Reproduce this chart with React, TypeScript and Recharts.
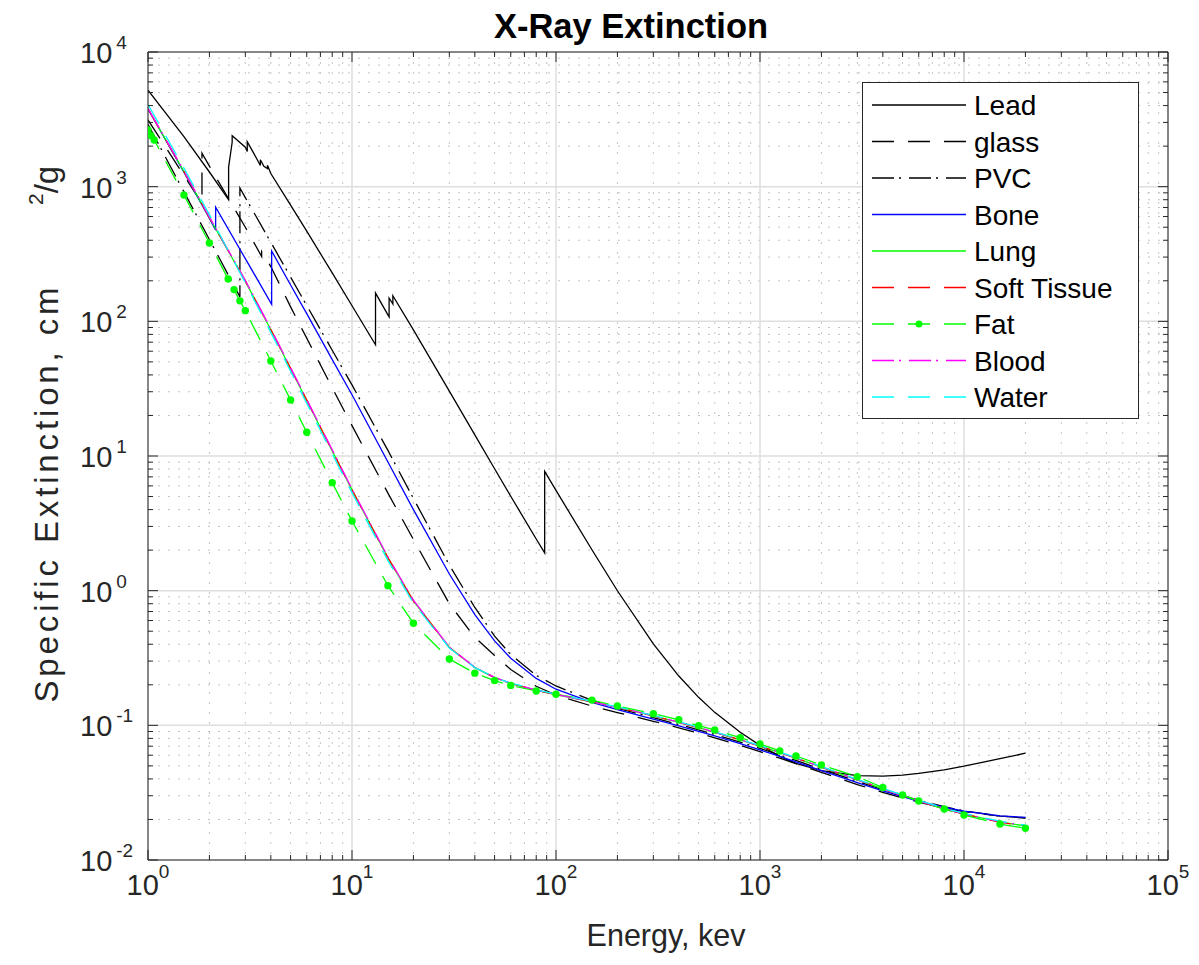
import React from 'react';
import { LineChart, Line, XAxis, YAxis, CartesianGrid, ReferenceLine, Legend } from 'recharts';

// energies in keV, specific extinction in cm^2/g
const E_STD = [1, 1.5, 2, 3, 4, 5, 6, 8, 10, 15, 20, 30, 40, 50, 60, 80, 100, 150, 200, 300, 400, 500, 600, 800, 1000, 1250, 1500, 2000, 3000, 4000, 5000, 6000, 8000, 10000, 15000, 20000];

const LEAD_E = [1, 1.5, 2, 2.484, 2.484, 2.534, 2.586, 2.586, 3, 3.066, 3.066, 3.301, 3.554, 3.554, 3.699, 3.851, 3.851, 4, 5, 6, 8, 10, 13.04, 13.04, 15, 15.2, 15.2, 15.53, 15.86, 15.86, 20, 30, 40, 50, 60, 80, 88, 88, 100, 150, 200, 300, 400, 500, 600, 800, 1000, 1250, 1500, 2000, 3000, 4000, 5000, 6000, 8000, 10000, 15000, 20000];
const LEAD_MU = [5210, 2356, 1285, 800.6, 1397, 1726, 2135, 2391, 1963, 1824, 2155, 1768, 1437, 1586, 1419, 1362, 1444, 1251, 730.4, 467.2, 228.7, 130.6, 67.01, 162.1, 111.6, 107.8, 148.5, 141.6, 134.4, 154.8, 86.36, 30.32, 14.36, 8.041, 5.021, 2.419, 1.91, 7.683, 5.549, 2.014, 0.9985, 0.4031, 0.2323, 0.1614, 0.1248, 0.0887, 0.07102, 0.05876, 0.05222, 0.04606, 0.04234, 0.04197, 0.04272, 0.04391, 0.04675, 0.04972, 0.05658, 0.06206];

const GLASS_E = [1, 1.5, 1.839, 1.839, 2, 3, 3.607, 3.607, 4, 5, 6, 8, 10, 15, 20, 30, 40, 50, 60, 80, 100, 150, 200, 300, 400, 500, 600, 800, 1000, 1250, 1500, 2000, 3000, 4000, 5000, 6000, 8000, 10000, 15000, 20000];
const GLASS_MU = [3130, 1210, 753, 1770, 1420, 500, 303, 330, 255, 128, 75, 32.1, 16.8, 5.3, 2.4, 0.8, 0.45, 0.33, 0.26, 0.195, 0.168, 0.139, 0.1245, 0.1072, 0.0959, 0.0874, 0.0808, 0.0709, 0.0637, 0.057, 0.0519, 0.0447, 0.0363, 0.0318, 0.0289, 0.0269, 0.0243, 0.0229, 0.0212, 0.0206];

const PVC_E = [1, 1.5, 2, 2.822, 2.822, 3, 4, 5, 6, 8, 10, 15, 20, 30, 40, 50, 60, 80, 100, 150, 200, 300, 400, 500, 600, 800, 1000, 1250, 1500, 2000, 3000, 4000, 5000, 6000, 8000, 10000, 15000, 20000];
const PVC_MU = [2900, 917, 405, 152, 977, 830, 386, 213, 131, 61, 33.7, 11.0, 4.84, 1.55, 0.75, 0.46, 0.335, 0.235, 0.196, 0.153, 0.134, 0.114, 0.1015, 0.0926, 0.0855, 0.075, 0.0674, 0.0603, 0.0549, 0.0472, 0.0383, 0.0333, 0.03, 0.0278, 0.0249, 0.0232, 0.0212, 0.0205];

const BONE_E = [1, 1.5, 2, 2.1455, 2.1455, 3, 4.038, 4.038, 5, 6, 8, 10, 15, 20, 30, 40, 50, 60, 80, 100, 150, 200, 300, 400, 500, 600, 800, 1000, 1250, 1500, 2000, 3000, 4000, 5000, 6000, 8000, 10000, 15000, 20000];
const BONE_MU = [3781, 1280, 580, 476, 703, 292, 134, 333, 186, 114, 52, 28.5, 9.03, 4.0, 1.33, 0.665, 0.424, 0.315, 0.223, 0.1855, 0.148, 0.1309, 0.1113, 0.0989, 0.0902, 0.0834, 0.0732, 0.0657, 0.0587, 0.0535, 0.0461, 0.0375, 0.0326, 0.0295, 0.0273, 0.0247, 0.0231, 0.0213, 0.0207];

const LUNG_MU = [3770, 1295, 588, 198, 86.5, 44.5, 25.8, 10.9, 5.6, 1.75, 0.838, 0.378, 0.2686, 0.2263, 0.2048, 0.1823, 0.1694, 0.1492, 0.1358, 0.1176, 0.1052, 0.09604, 0.08879, 0.07798, 0.07011, 0.06269, 0.05704, 0.049, 0.03936, 0.03374, 0.03003, 0.02744, 0.02404, 0.02195, 0.01917, 0.01789];
const SOFT_MU = [3790, 1300, 590, 200, 87, 44.8, 26.0, 10.95, 5.62, 1.76, 0.841, 0.379, 0.2688, 0.2264, 0.2048, 0.1823, 0.1693, 0.1492, 0.1358, 0.1176, 0.1052, 0.09602, 0.08877, 0.07796, 0.0701, 0.06268, 0.05703, 0.04898, 0.03933, 0.0337, 0.02999, 0.02739, 0.02398, 0.02189, 0.0191, 0.01781];
const BLOOD_MU = [3800, 1310, 595, 201, 88, 45.3, 26.3, 11.1, 5.68, 1.78, 0.85, 0.381, 0.2694, 0.227, 0.2053, 0.1827, 0.1697, 0.1496, 0.1361, 0.1179, 0.1055, 0.09625, 0.08899, 0.07815, 0.07027, 0.06284, 0.05717, 0.04911, 0.03946, 0.03383, 0.03012, 0.02752, 0.02412, 0.02203, 0.01925, 0.01796];
const WATER_MU = [4078, 1376, 617.3, 192.9, 82.78, 42.58, 24.64, 10.37, 5.329, 1.673, 0.8096, 0.3756, 0.2683, 0.2269, 0.2059, 0.1837, 0.1707, 0.1505, 0.137, 0.1186, 0.1061, 0.09687, 0.08956, 0.07865, 0.07072, 0.06323, 0.05754, 0.04942, 0.03969, 0.03403, 0.03031, 0.0277, 0.02429, 0.02219, 0.01941, 0.01813];

const FAT_E = [1, 1.035, 1.072, 1.5, 2, 2.472, 2.641, 2.822, 3, 4, 5, 6, 8, 10, 15, 20, 30, 40, 50, 60, 80, 100, 150, 200, 300, 400, 500, 600, 800, 1000, 1250, 1500, 2000, 3000, 4000, 5000, 6000, 8000, 10000, 15000, 20000];
const FAT_MU = [2636, 2392, 2222, 867, 382, 206, 172, 142, 120, 50.8, 26.1, 15.0, 6.34, 3.29, 1.09, 0.573, 0.311, 0.244, 0.215, 0.198, 0.18, 0.17, 0.154, 0.139, 0.122, 0.11, 0.0994, 0.0924, 0.081, 0.0727, 0.0645, 0.0592, 0.0508, 0.0416, 0.0345, 0.0304, 0.0274, 0.0239, 0.0216, 0.0185, 0.0172];

const X_DECADES = [0, 1, 2, 3, 4, 5];
const Y_DECADES = [-2, -1, 0, 1, 2, 3, 4];

const FONT = '"Liberation Sans", Arial, Helvetica, sans-serif';
const AXIS = '#262626';
const DASH = '22 14';
const DASHDOT = '22 5 2 8';
const PLOT_H = 808;
const PLOT_W = 1020;

const toPoints = (e: number[], mu: number[]) => e.map((x, i) => ({ x, y: mu[i] }));

const SERIES = [
  { name: 'Lead', pts: toPoints(LEAD_E, LEAD_MU), color: '#000000', dash: undefined, marker: false },
  { name: 'glass', pts: toPoints(GLASS_E, GLASS_MU), color: '#000000', dash: DASH, marker: false },
  { name: 'PVC', pts: toPoints(PVC_E, PVC_MU), color: '#000000', dash: DASHDOT, marker: false },
  { name: 'Bone', pts: toPoints(BONE_E, BONE_MU), color: '#0000ff', dash: undefined, marker: false },
  { name: 'Lung', pts: toPoints(E_STD, LUNG_MU), color: '#00ff00', dash: undefined, marker: false },
  { name: 'Soft Tissue', pts: toPoints(E_STD, SOFT_MU), color: '#ff0000', dash: DASH, marker: false },
  { name: 'Fat', pts: toPoints(FAT_E, FAT_MU), color: '#00ff00', dash: DASH, marker: true },
  { name: 'Blood', pts: toPoints(E_STD, BLOOD_MU), color: '#ff00ff', dash: DASHDOT, marker: false },
  { name: 'Water', pts: toPoints(E_STD, WATER_MU), color: '#00ffff', dash: DASH, marker: false },
];

const isMajor = (v: number) => Math.abs(Math.log10(v) - Math.round(Math.log10(v))) < 1e-9;

// major + minor tick values for a list of decades
const logTicks = (decs: number[]) => {
  const out: number[] = [];
  decs.forEach((d, i) => {
    out.push(Math.pow(10, d));
    if (i < decs.length - 1) for (let k = 2; k <= 9; k++) out.push(k * Math.pow(10, d));
  });
  return out;
};
const minorOnly = (decs: number[]) => logTicks(decs).filter(v => !isMajor(v));

const XTick = (props: any) => {
  const { x, y, payload } = props;
  const v = payload.value;
  const major = isMajor(v);
  const len = major ? 10 : 5;
  const exp = Math.round(Math.log10(v));
  return (
    <g>
      <line x1={x} y1={y} x2={x} y2={y - len} stroke={AXIS} />
      <line x1={x} y1={y - PLOT_H} x2={x} y2={y - PLOT_H + len} stroke={AXIS} />
      {major && (
        <text x={x} y={y + 35} textAnchor="middle" fill={AXIS} fontFamily={FONT} fontSize={29}>
          10<tspan dy={-17} fontSize={19}>{exp}</tspan>
        </text>
      )}
    </g>
  );
};

const YTick = (props: any) => {
  const { x, y, payload } = props;
  const v = payload.value;
  const major = isMajor(v);
  const len = major ? 10 : 5;
  const exp = Math.round(Math.log10(v));
  return (
    <g>
      <line x1={x} y1={y} x2={x + len} y2={y} stroke={AXIS} />
      <line x1={x + PLOT_W} y1={y} x2={x + PLOT_W - len} y2={y} stroke={AXIS} />
      {major && (
        <text x={80} y={y + 11} textAnchor="start" fill={AXIS} fontFamily={FONT} fontSize={29}>
          10<tspan dx={4} dy={-14} fontSize={19}>{exp}</tspan>
        </text>
      )}
    </g>
  );
};

const LegendBox = () => (
  <svg width={277} height={337} style={{ display: 'block' }}>
    <rect x={0.5} y={0.5} width={276} height={336} fill="#ffffff" stroke={AXIS} />
    {SERIES.map((s, i) => {
      const cy = 23 + i * 36.5;
      return (
        <g key={s.name}>
          <line x1={10} x2={104} y1={cy} y2={cy} stroke={s.color} strokeWidth={1.3} strokeDasharray={s.dash} />
          {s.marker && <circle cx={57} cy={cy} r={3.5} fill={s.color} />}
          <text x={112} y={cy + 10} fontFamily={FONT} fontSize={28} fill="#000">{s.name}</text>
        </g>
      );
    })}
  </svg>
);

export default function App() {
  const xTicks = logTicks(X_DECADES);
  const yTicks = logTicks(Y_DECADES);
  return (
    <div style={{ position: 'absolute', left: 0, top: 0, width: 1199, height: 965, background: '#fff' }}>
      <LineChart width={1199} height={965} margin={{ top: 52, right: 31, bottom: 75, left: 88 }}>
        <CartesianGrid
          verticalValues={minorOnly(X_DECADES)}
          horizontalValues={minorOnly(Y_DECADES)}
          stroke="#c4c4c4"
          strokeWidth={1}
          strokeDasharray="2 8"
        />
        <CartesianGrid
          verticalValues={X_DECADES.map(d => Math.pow(10, d))}
          horizontalValues={Y_DECADES.map(d => Math.pow(10, d))}
          stroke="#dedede"
          strokeWidth={1.5}
        />
        <XAxis
          dataKey="x"
          type="number"
          scale="log"
          domain={[1, 100000]}
          allowDataOverflow
          ticks={xTicks}
          interval={0}
          height={30}
          tickSize={0}
          tickMargin={0}
          tickLine={false}
          axisLine={{ stroke: AXIS }}
          tick={<XTick />}
        />
        <YAxis
          type="number"
          scale="log"
          domain={[0.01, 10000]}
          allowDataOverflow
          ticks={yTicks}
          interval={0}
          width={60}
          tickSize={0}
          tickMargin={0}
          tickLine={false}
          axisLine={{ stroke: AXIS }}
          tick={<YTick />}
        />
        <ReferenceLine y={10000} stroke={AXIS} />
        <ReferenceLine x={100000} stroke={AXIS} />
        {SERIES.map(s => (
          <Line
            key={s.name}
            name={s.name}
            data={s.pts}
            dataKey="y"
            type="linear"
            stroke={s.color}
            strokeWidth={1.3}
            strokeDasharray={s.dash}
            dot={s.marker ? { r: 3.7, fill: s.color, stroke: s.color, strokeWidth: 0 } : false}
            isAnimationActive={false}
          />
        ))}
        <Legend
          layout="vertical"
          align="center"
          verticalAlign="middle"
          content={<LegendBox />}
          wrapperStyle={{ left: 862, top: 82, width: 277, height: 337 }}
        />
      </LineChart>
      <svg width={1199} height={965} style={{ position: 'absolute', left: 0, top: 0, pointerEvents: 'none' }}>
        <text x={631} y={38} textAnchor="middle" fontFamily={FONT} fontWeight="bold" fontSize={34.5} fill="#000">
          X-Ray Extinction
        </text>
        <text x={666} y={946} textAnchor="middle" fontFamily={FONT} fontSize={30.5} fill={AXIS}>
          Energy, kev
        </text>
        <text
          transform="translate(58,495) rotate(-90)"
          textAnchor="middle"
          fontFamily={FONT}
          fontSize={33}
          fill={AXIS}
          textLength={415}
          lengthAdjust="spacing"
        >
          Specific Extinction, cm
        </text>
        <text transform="translate(58,205) rotate(-90)" textAnchor="start" fontFamily={FONT} fontSize={33} fill={AXIS}>
          <tspan fontSize={21} dy={-15}>2</tspan>
          <tspan dy={15}>/g</tspan>
        </text>
      </svg>
    </div>
  );
}
